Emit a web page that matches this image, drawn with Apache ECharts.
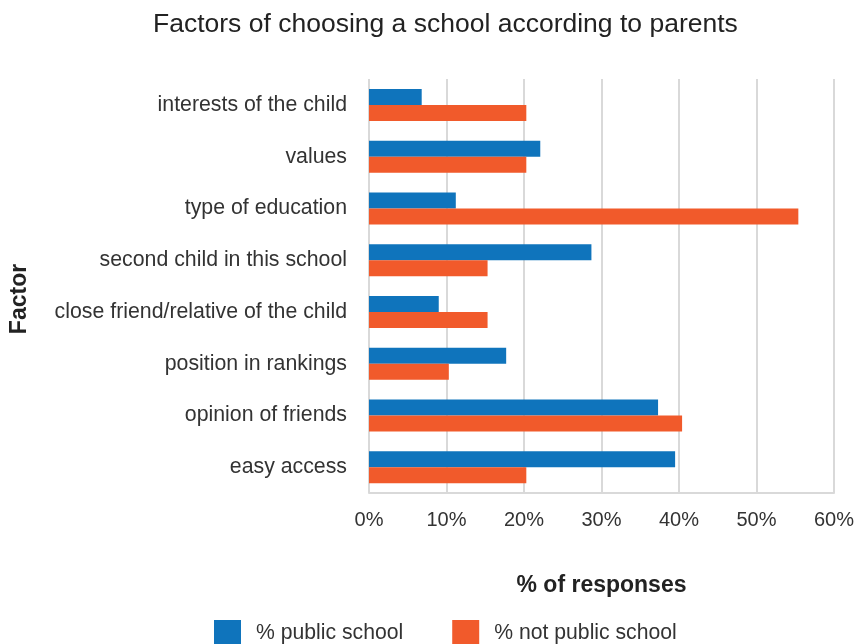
<!DOCTYPE html>
<html>
<head>
<meta charset="utf-8">
<script src="https://cdn.jsdelivr.net/npm/echarts@6/dist/echarts.min.js"></script>
<style>html,body{margin:0;padding:0;background:#fff}#c{width:857px;height:644px}</style>
</head>
<body>
<div id="c"></div>
<script>
var categories = ["interests of the child", "values", "type of education", "second child in this school", "close friend/relative of the child", "position in rankings", "opinion of friends", "easy access"];
var publicSchool = [6.8, 22.1, 11.2, 28.7, 9.0, 17.7, 37.3, 39.5];
var notPublicSchool = [20.3, 20.3, 55.4, 15.3, 15.3, 10.3, 40.4, 20.3];
var xTicks = [0, 10, 20, 30, 40, 50, 60];

var chart = echarts.init(document.getElementById('c'));
var font = 'Liberation Sans, Arial, sans-serif';
chart.setOption({
  animation: false,
  textStyle: {fontFamily: font},
  title: {
    text: 'Factors of choosing a school according to parents',
    left: 148, top: 6,
    textStyle: {fontSize: 26.5, fontWeight: 'normal', color: '#222', fontFamily: font}
  },
  grid: {left: 367, right: 23, top: 79, bottom: 151, containLabel: false},
  legend: {
    data: ['% public school', '% not public school'],
    left: 209, top: 615,
    itemWidth: 27, itemHeight: 27, itemGap: 49,
    icon: 'rect',
    textStyle: {fontSize: 21.2, color: '#333', fontFamily: font, padding: [0, 0, 0, 10]}
  },
  xAxis: {
    type: 'value', min: xTicks[0], max: xTicks[xTicks.length - 1], interval: 10,
    name: '% of responses', nameLocation: 'middle', nameGap: 81,
    nameTextStyle: {fontSize: 23, fontWeight: 'bold', color: '#222'},
    axisLabel: {formatter: '{value}%', fontSize: 20, color: '#333', margin: 17},
    axisLine: {show: true, lineStyle: {color: '#d9d9d9', width: 2}},
    axisTick: {show: false},
    splitLine: {lineStyle: {color: '#d9d9d9', width: 2}}
  },
  yAxis: {
    type: 'category', data: categories, inverse: true,
    name: 'Factor', nameLocation: 'middle', nameGap: 338, nameRotate: 90,
    nameTextStyle: {fontSize: 23, fontWeight: 'bold', color: '#222', padding: [0, 26, 0, 0]},
    axisLabel: {fontSize: 21.3, color: '#333', margin: 22},
    axisLine: {show: false},
    axisTick: {show: false}
  },
  series: [
    {name: '% public school', type: 'bar', data: publicSchool, barWidth: 16, barGap: '0%',
     itemStyle: {color: '#0F74BC'}},
    {name: '% not public school', type: 'bar', data: notPublicSchool, barWidth: 16, barGap: '0%',
     itemStyle: {color: '#F15A2B'}}
  ]
});
</script>
</body>
</html>
